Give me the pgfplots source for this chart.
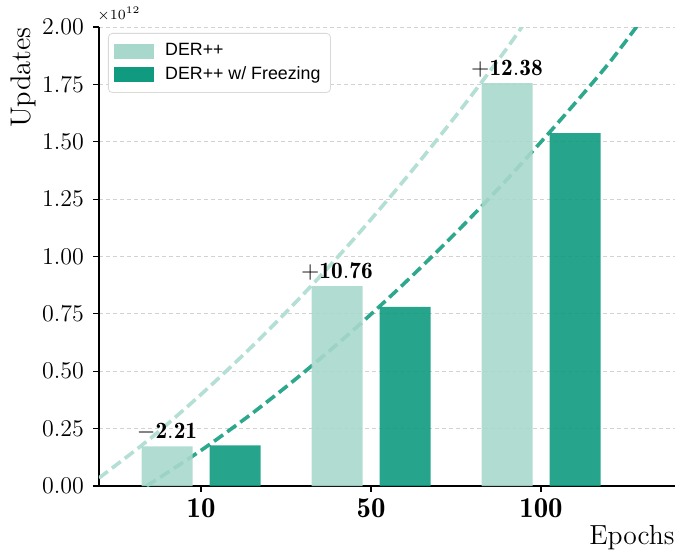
\documentclass[border=0pt]{standalone}
\usepackage{fontspec}
\usepackage{pgfplots}
\usepackage{pgfplotstable}
\pgfplotsset{compat=1.18}
\newfontfamily\legfont{Liberation Sans}
\definecolor{lightteal}{HTML}{A8D8CC}
\definecolor{darkteal}{HTML}{109A7F}
\definecolor{lightcurve}{HTML}{B3DFD5}
\definecolor{darkcurve}{HTML}{2EA88C}

\pgfplotstableread{
x y label
0 0.173 {$\mathbf{-2.21}$}
1 0.871 {$\mathbf{+10.76}$}
2 1.756 {$\mathbf{+12.38}$}
}\lightbars
\pgfplotstableread{
x y
0 0.177
1 0.780
2 1.538
}\darkbars
\pgfplotstableread{
x y
-0.6 0.035
-0.3 0.206
0.0 0.399
0.3 0.608
0.6 0.834
0.9 1.077
1.2 1.337
1.5 1.614
1.8 1.908
1.95 2.07
}\lightfit
\pgfplotstableread{
x y
-0.32 0.0
0.0 0.155
0.3 0.316
0.6 0.492
0.9 0.682
1.2 0.886
1.5 1.104
1.8 1.336
2.1 1.583
2.4 1.843
2.65 2.09
}\darkfit

\begin{document}
\begin{tikzpicture}
\begin{axis}[
  name=ax, anchor=south west, at={(0,0)},
  scale only axis, width=288pt, height=229.5pt,
  xmin=-0.6, xmax=2.788, ymin=0, ymax=2,
  axis lines*=left,
  axis line style={line width=1.25pt},
  xtick={0,1,2}, xticklabels={$\mathbf{10}$,$\mathbf{50}$,$\mathbf{100}$},
  ytick={0,0.25,0.5,0.75,1,1.25,1.5,1.75,2},
  yticklabel style={/pgf/number format/fixed, /pgf/number format/fixed zerofill, /pgf/number format/precision=2, font=\fontsize{12}{14}\selectfont, xshift=-1pt},
  xticklabel style={font=\fontsize{14.4}{16}\selectfont},
  tick align=outside, major tick length=3pt,
  tick style={black, line width=0.6pt},
  ymajorgrids, major grid style={dash pattern=on 2pt off 1.5pt, gray!35, line width=0.4pt},
  xlabel={Epochs},
  xlabel style={at={(axis description cs:1,0)}, anchor=north east, yshift=-19.5pt, inner sep=0pt, font=\fontsize{13.8}{15}\selectfont},
  ylabel={Updates},
  ylabel style={at={(axis description cs:-0.1545,1)}, anchor=north east, inner sep=0pt, font=\fontsize{14.2}{15}\selectfont},
  legend style={at={(axis description cs:0.0156,0.987)}, anchor=north west, draw=gray!30, rounded corners=2pt, fill=white, font=\legfont\fontsize{8.9}{10}\selectfont, row sep=0pt, inner ysep=3pt,
    /tikz/every odd column/.append style={column sep=3.5pt}},
  legend cell align=left,
]
\addlegendimage{legend image code/.code={\fill[lightteal, sharp corners] (0pt,-3.5pt) rectangle (19.5pt,3.5pt);}}
\addlegendentry{DER++}
\addlegendimage{legend image code/.code={\fill[darkteal, sharp corners] (0pt,-3.5pt) rectangle (19.5pt,3.5pt);}}
\addlegendentry{DER++ w/ Freezing}
\addplot[forget plot, smooth, lightcurve, line width=1.8pt, dash pattern=on 5.5pt off 2.6pt] table {\lightfit};
\addplot[forget plot, smooth, darkcurve, line width=1.8pt, dash pattern=on 5.5pt off 2.6pt] table {\darkfit};
\addplot[forget plot, ybar, bar width=0.3, bar shift=-0.2, fill=lightteal, fill opacity=0.9, draw=none,
  nodes near coords, point meta=explicit symbolic,
  every node near coord/.append style={font=\fontsize{11.7}{13}\selectfont, text=black, text opacity=1, fill opacity=1, inner sep=2.5pt, xshift=-17pt}]
  table[meta=label] {\lightbars};
\addplot[forget plot, ybar, bar width=0.3, bar shift=0.2, fill=darkteal, fill opacity=0.9, draw=none] table {\darkbars};
\end{axis}
\node[anchor=south west, inner sep=0pt, font=\fontsize{7.5}{8}\selectfont] at ([xshift=-1pt, yshift=2.5pt]ax.north west) {$\times 10^{12}$};
\pgfresetboundingbox
\path[use as bounding box] (-49.5pt,-33.5pt) rectangle (288pt,243pt);
\end{tikzpicture}
\end{document}
